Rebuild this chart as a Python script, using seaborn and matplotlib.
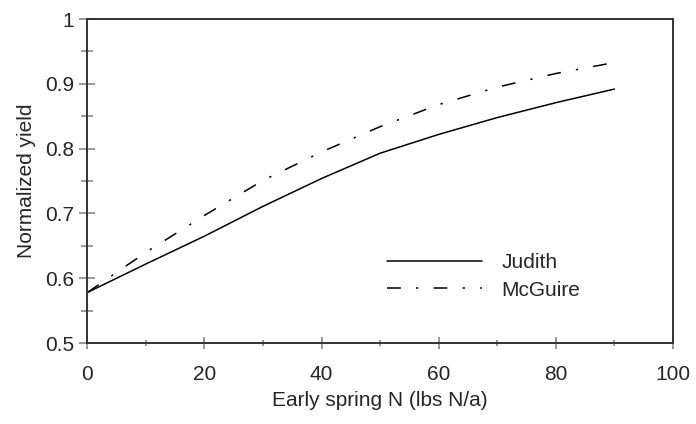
import numpy as np
import pandas as pd
import seaborn as sns
import matplotlib.pyplot as plt
from matplotlib.ticker import MultipleLocator

sns.set_style('white')
plt.rcParams['font.family'] = ['Liberation Sans', 'DejaVu Sans']

# values
n_rate = [0, 10, 20, 30, 40, 50, 60, 70, 80, 90]
judith = [0.578, 0.622, 0.665, 0.711, 0.754, 0.793, 0.822, 0.848, 0.871, 0.892]
mcguire = [0.578, 0.640, 0.697, 0.751, 0.795, 0.834, 0.868, 0.895, 0.916, 0.933]

df = pd.DataFrame({
    'N': n_rate * 2,
    'yield': judith + mcguire,
    'variety': ['Judith'] * len(n_rate) + ['McGuire'] * len(n_rate),
})

fig = plt.figure(figsize=(6.96, 4.24), dpi=100)
ax = fig.add_axes([0.1255, 0.191, 0.8415, 0.764])

sns.lineplot(data=df, x='N', y='yield', hue='variety', style='variety',
             palette={'Judith': 'black', 'McGuire': 'black'},
             dashes={'Judith': '', 'McGuire': (9, 10, 1.5, 10)},
             linewidth=1.1, ax=ax)

ax.set_xlim(0, 100)
ax.set_ylim(0.5, 1.0)
ax.xaxis.set_major_locator(MultipleLocator(20))
ax.xaxis.set_minor_locator(MultipleLocator(10))
ax.yaxis.set_major_locator(MultipleLocator(0.1))
ax.yaxis.set_minor_locator(MultipleLocator(0.05))
ax.set_yticks([0.5, 0.6, 0.7, 0.8, 0.9, 1.0], ['0.5', '0.6', '0.7', '0.8', '0.9', '1'])

for s in ax.spines.values():
    s.set_color('#333333')
    s.set_linewidth(1.4)

ax.tick_params(axis='both', which='both', direction='inout', color='#888888',
               width=1.2, labelsize=15, bottom=True, left=True)
ax.tick_params(axis='x', which='major', length=8, pad=12)
ax.tick_params(axis='x', which='minor', length=5)
ax.tick_params(axis='y', which='major', length=11.5, pad=4)
ax.tick_params(axis='y', which='minor', length=8.5)

ax.set_xlabel('Early spring N (lbs N/a)', fontsize=15, labelpad=5)
ax.set_ylabel('Normalized yield', fontsize=15, labelpad=6)

ax.legend(title=None, frameon=False, fontsize=15, loc='upper left',
          bbox_to_anchor=(0.511, 0.278), borderpad=0, borderaxespad=0,
          handlelength=4.6, handletextpad=0.9, labelspacing=0.42)

fig.savefig('out.png', dpi=100)
